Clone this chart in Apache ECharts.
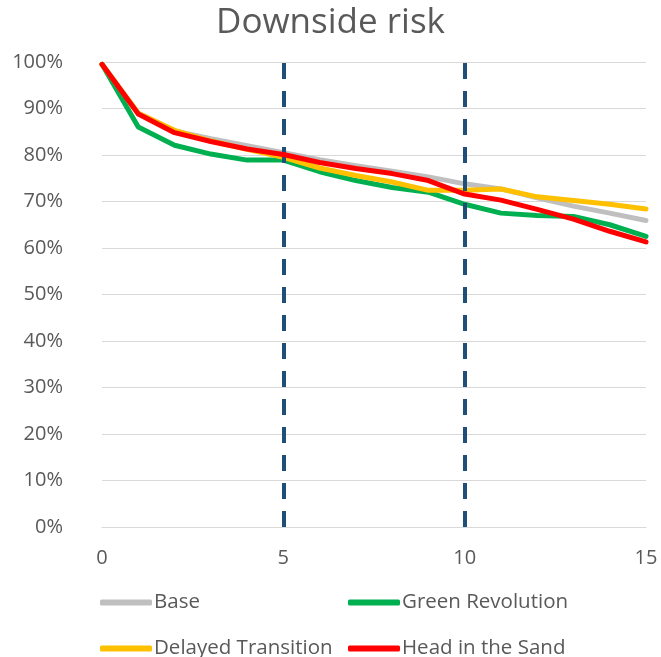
<!DOCTYPE html>
<html>
<head>
<meta charset="utf-8">
<script src="https://cdn.jsdelivr.net/npm/echarts@6/dist/echarts.min.js"></script>
<style>
html,body{margin:0;padding:0;background:#fff;}
#chart{width:661px;height:657px;}
</style>
</head>
<body>
<div id="chart"></div>
<script>
var years = [0,1,2,3,4,5,6,7,8,9,10,11,12,13,14,15];
var base = [99.5,89.0,85.2,83.5,82.0,80.5,79.0,77.7,76.5,75.3,73.8,72.7,70.8,69.0,67.5,65.9];
var greenRevolution = [99.5,86.0,82.1,80.2,78.9,78.9,76.4,74.5,73.0,72.0,69.4,67.5,67.0,66.8,65.0,62.5];
var delayedTransition = [99.5,89.0,85.3,83.0,81.2,79.5,77.2,75.6,74.2,72.4,72.4,72.7,71.0,70.2,69.4,68.4];
var headInTheSand = [99.5,88.8,84.8,82.9,81.3,80.1,78.4,77.1,76.0,74.5,71.6,70.3,68.3,66.2,63.6,61.3];
var markerYears = [5,10];
var seriesNames = ['Base','Green Revolution','Delayed Transition','Head in the Sand'];
var colors = ['#BFBFBF','#00B050','#FFC000','#FF0000'];

function pairs(vals){ return years.map(function(x,i){ return [x, vals[i]/100]; }); }

var FONT = '"Open Sans", "Liberation Sans", sans-serif';
var chart = echarts.init(document.getElementById('chart'));
var allVals = [base, greenRevolution, delayedTransition, headInTheSand];
var series = allVals.map(function(v,i){
  var s = {
    name: seriesNames[i], type:'line', data: pairs(v), symbol:'none',
    lineStyle:{width:5, color:colors[i], cap:'round', join:'round'},
    itemStyle:{color:colors[i]}, z: 2+i
  };
  if(i===3){
    s.markLine = {
      silent:true, symbol:['none','none'], label:{show:false},
      lineStyle:{color:'#1F4E79', width:4, type:[16,12]},
      data: markerYears.map(function(x){ return {xAxis:x}; })
    };
  }
  return s;
});

function legendAt(name, left, top){
  return {
    data:[name], left:left, top:top, itemWidth:52, itemHeight:6, icon:'roundRect',
    padding:0, textStyle:{fontFamily:FONT, fontSize:20.5, color:'#595959', padding:[0,0,0,-3]}
  };
}

chart.setOption({
  animation:false,
  color: colors,
  title:{text:'Downside risk', left:'center', top:1, textStyle:{fontFamily:FONT, fontSize:35, fontWeight:'normal', color:'#595959'}},
  grid:{left:102, right:15, top:62, bottom:130},
  xAxis:{type:'value', min:0, max:15, interval:5,
    axisLine:{show:true, lineStyle:{color:'#D9D9D9'}}, axisTick:{show:false}, splitLine:{show:false},
    axisLabel:{fontFamily:FONT, fontSize:20, color:'#595959', margin:21}},
  yAxis:{type:'value', min:0, max:1, interval:0.1,
    axisLine:{show:false}, axisTick:{show:false},
    splitLine:{lineStyle:{color:'#D9D9D9', width:1}},
    axisLabel:{fontFamily:FONT, fontSize:20, color:'#595959', margin:39,
      formatter:function(v){ return Math.round(v*100)+'%'; }}},
  legend:[legendAt(seriesNames[0],100,592), legendAt(seriesNames[1],348,592), legendAt(seriesNames[2],100,638), legendAt(seriesNames[3],348,638)],
  series: series
});
</script>
</body>
</html>
